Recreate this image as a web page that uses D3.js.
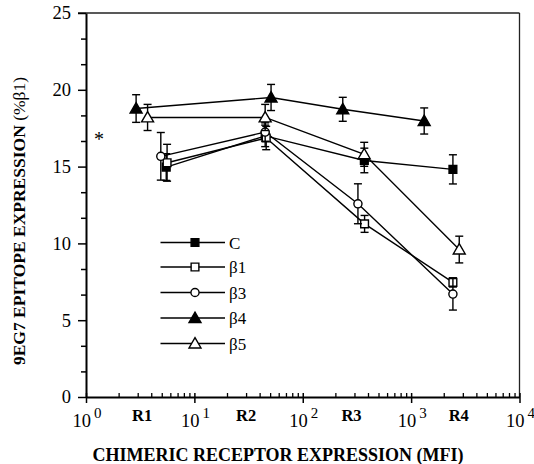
<!DOCTYPE html>
<html>
<head>
<meta charset="utf-8">
<script src="https://cdn.jsdelivr.net/npm/d3@7"></script>
<style>
  body { margin: 0; background: #fff; }
  svg { font-family: "Liberation Serif", "Times New Roman", serif; }
</style>
</head>
<body>
<div id="chart"></div>
<script>
// values (x = MFI, y = % beta1)
const seriesNames = ['C', 'β1', 'β3', 'β4', 'β5'];
const cX  = [5.5, 45, 370, 2430];
const cY  = [14.97, 17.0, 15.4, 14.82];
const cE  = [0.87, 0.7, 0.8, 0.95];
const b1X = [5.6, 46, 372, 2430];
const b1Y = [15.25, 16.86, 11.27, 7.46];
const b1E = [1.2, 0.76, 0.55, 0.3];
const b3X = [4.9, 45, 323, 2430];
const b3Y = [15.67, 17.25, 12.58, 6.7];
const b3E = [1.55, 0.6, 1.3, 1.04];
const b4X = [2.9, 51, 234, 1320];
const b4Y = [18.78, 19.5, 18.73, 17.97];
const b4E = [0.9, 0.85, 0.78, 0.85];
const b5X = [3.7, 45, 369, 2780];
const b5Y = [18.2, 18.2, 15.8, 9.6];
const b5E = [0.85, 0.85, 0.78, 0.87];

const xMajor = [1, 10, 100, 1000, 10000];
const xExp = ['0', '1', '2', '3', '4'];
const regionLabels = ['R1', 'R2', 'R3', 'R4'];
const regionPos = [3.3, 30, 282, 2750];
const yMajor = [0, 5, 10, 15, 20, 25];

const w = 534, h = 464;
const padL = 86, padR = 519.5, padT = 13, padB = 397;

const svg = d3.select('#chart').append('svg')
  .attr('width', w)
  .attr('height', h);

const xScale = d3.scaleLog().domain([1, 10000]).range([padL, padR]);
const yScale = d3.scaleLinear().domain([0, 25]).range([padB, padT]);

// frame (top + right thinner)
svg.append('line').attr('x1', padL - 8).attr('x2', padR).attr('y1', padT).attr('y2', padT)
  .attr('stroke', '#222').attr('stroke-width', 1.3);
svg.append('line').attr('x1', padR).attr('x2', padR).attr('y1', padT).attr('y2', padB)
  .attr('stroke', '#222').attr('stroke-width', 1.3);

// Y AXIS
const yMinor = d3.range(0, 25.01, 5 / 3).filter(v => Math.abs(v % 5) > 0.01 && Math.abs(v % 5 - 5) > 0.01);
svg.append('g')
  .attr('transform', `translate(${padL},0)`)
  .call(d3.axisLeft(yScale).tickValues(yMinor).tickSize(5).tickFormat(''))
  .call(g => g.select('.domain').remove())
  .selectAll('line').attr('stroke-width', 1.5);

const yAxis = svg.append('g')
  .attr('transform', `translate(${padL},0)`)
  .call(d3.axisLeft(yScale).tickValues(yMajor).tickSize(8).tickPadding(7).tickSizeOuter(0));
yAxis.select('.domain').attr('stroke-width', 2);
yAxis.selectAll('line').attr('stroke-width', 1.5);
yAxis.selectAll('text')
  .attr('font-family', '"Liberation Serif", serif')
  .attr('font-size', 18.5)
  .attr('fill', '#000');

// X AXIS
const xMinor = [];
for (let d = 1; d < 10000; d *= 10) {
  for (let k = 2; k <= 9; k++) xMinor.push(d * k);
}
svg.append('g')
  .attr('transform', `translate(0,${padB})`)
  .call(d3.axisBottom(xScale).tickValues(xMinor).tickSize(-4).tickFormat(''))
  .call(g => g.select('.domain').remove())
  .selectAll('line').attr('stroke-width', 1.3);

const xAxis = svg.append('g')
  .attr('transform', `translate(0,${padB})`)
  .call(d3.axisBottom(xScale).tickValues(xMajor).tickSize(6).tickSizeOuter(0).tickFormat(''));
xAxis.select('.domain').attr('stroke-width', 2);
xAxis.selectAll('line').attr('y1', -4).attr('stroke-width', 1.5);

// 10^n labels
const powLab = svg.selectAll('.powlab')
  .data(xMajor)
  .enter()
  .append('text')
  .attr('class', 'powlab')
  .attr('x', d => xScale(d) + 1)
  .attr('y', 427)
  .attr('text-anchor', 'middle')
  .attr('font-size', 18.5);
powLab.append('tspan').text('10');
powLab.append('tspan')
  .attr('dx', 3)
  .attr('dy', -9)
  .attr('font-size', 15)
  .text((d, i) => xExp[i]);

svg.selectAll('.reglab')
  .data(regionLabels)
  .enter()
  .append('text')
  .attr('x', (d, i) => xScale(regionPos[i]))
  .attr('y', 421)
  .attr('text-anchor', 'middle')
  .attr('font-weight', 'bold')
  .attr('font-size', 16.5)
  .text(d => d);

// axis titles
svg.append('text')
  .attr('x', 278)
  .attr('y', 461)
  .attr('text-anchor', 'middle')
  .attr('font-weight', 'bold')
  .attr('font-size', 18)
  .text('CHIMERIC RECEPTOR EXPRESSION (MFI)');

const yt = svg.append('text')
  .attr('transform', 'translate(25,221) rotate(-90)')
  .attr('text-anchor', 'middle')
  .attr('font-size', 17.5);
yt.append('tspan').attr('font-weight', 'bold').text('9EG7 EPITOPE EXPRESSION ');
yt.append('tspan').text('(%β1)');

// asterisk
svg.append('text')
  .attr('x', xScale(1.32))
  .attr('y', yScale(16.9))
  .attr('dy', 9)
  .attr('text-anchor', 'middle')
  .attr('font-size', 20)
  .text('*');

// SERIES
const series = [
  { name: seriesNames[0], x: cX, y: cY, e: cE, shape: 'square', fill: '#000' },
  { name: seriesNames[1], x: b1X, y: b1Y, e: b1E, shape: 'square', fill: '#fff' },
  { name: seriesNames[2], x: b3X, y: b3Y, e: b3E, shape: 'circle', fill: '#fff' },
  { name: seriesNames[3], x: b4X, y: b4Y, e: b4E, shape: 'triangle', fill: '#000' },
  { name: seriesNames[4], x: b5X, y: b5Y, e: b5E, shape: 'triangle', fill: '#fff' }
];

const symbolPath = {
  square: d3.symbol().type(d3.symbolSquare).size(60)(),
  circle: d3.symbol().type(d3.symbolCircle).size(52)(),
  triangle: d3.symbol().type(d3.symbolTriangle).size(62)()
};

const line = d3.line().x(d => xScale(d[0])).y(d => yScale(d[1]));

// lines first
series.forEach(s => {
  const pts = s.x.map((v, i) => [v, s.y[i]]);
  svg.append('path')
    .attr('d', line(pts))
    .attr('fill', 'none')
    .attr('stroke', '#000')
    .attr('stroke-width', 1.4);
});

// error bars + markers
series.forEach(s => {
  const g = svg.append('g');
  s.x.forEach((v, i) => {
    const cx = xScale(v);
    const y1 = yScale(s.y[i] + s.e[i]);
    const y2 = yScale(s.y[i] - s.e[i]);
    g.append('line').attr('x1', cx).attr('x2', cx).attr('y1', y1).attr('y2', y2)
      .attr('stroke', '#000').attr('stroke-width', 1.4);
    [y1, y2].forEach(yy => {
      g.append('line').attr('x1', cx - 4).attr('x2', cx + 4).attr('y1', yy).attr('y2', yy)
        .attr('stroke', '#000').attr('stroke-width', 1.4);
    });
  });
  g.selectAll('path')
    .data(s.x)
    .enter()
    .append('path')
    .attr('d', symbolPath[s.shape])
    .attr('transform', (d, i) => `translate(${xScale(d)},${yScale(s.y[i]) + (s.shape === 'triangle' ? 1 : 0)})`)
    .attr('fill', s.fill)
    .attr('stroke', '#000')
    .attr('stroke-width', 1.4);
});

// LEGEND
const legY = [242.5, 267, 292.5, 318, 343.5];
const leg = svg.append('g');
series.forEach((s, i) => {
  leg.append('line')
    .attr('x1', 160.5).attr('x2', 225)
    .attr('y1', legY[i]).attr('y2', legY[i])
    .attr('stroke', '#000').attr('stroke-width', 1.4);
  leg.append('path')
    .attr('d', symbolPath[s.shape])
    .attr('transform', `translate(195,${legY[i] + (s.shape === 'triangle' ? 1 : 0)})`)
    .attr('fill', s.fill)
    .attr('stroke', '#000')
    .attr('stroke-width', 1.4);
  leg.append('text')
    .attr('x', 229)
    .attr('y', legY[i] + 6)
    .attr('font-size', 17)
    .text(s.name);
});
</script>
</body>
</html>
